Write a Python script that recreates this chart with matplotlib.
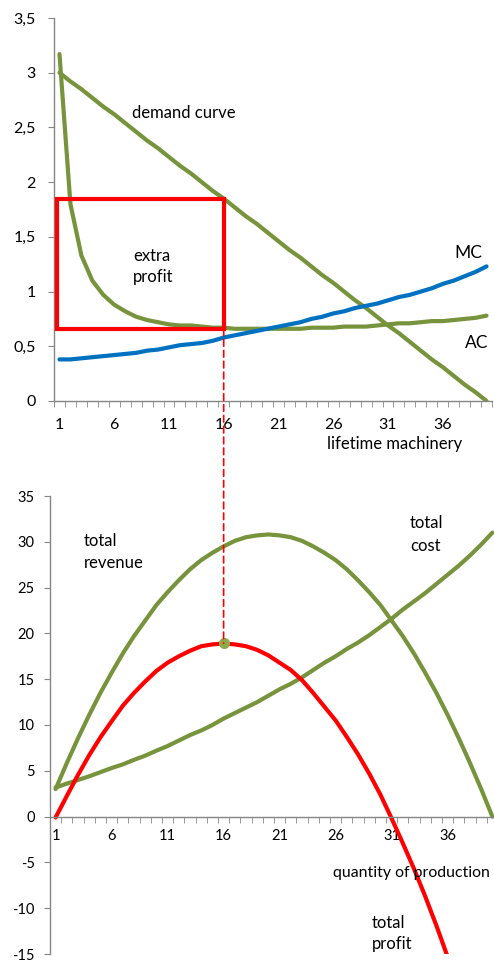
import matplotlib
matplotlib.use("Agg")
import matplotlib.pyplot as plt
from matplotlib.patches import Rectangle, ConnectionPatch

plt.rcParams["font.family"] = ["Lato", "DejaVu Sans"]
plt.rcParams["axes.unicode_minus"] = False

# quantities 1..40
q = list(range(1, 41))

# top chart: price / cost per unit
demand = [3.00, 2.92, 2.85, 2.77, 2.69, 2.62, 2.54, 2.46, 2.38, 2.31,
          2.23, 2.15, 2.08, 2.00, 1.92, 1.85, 1.77, 1.69, 1.62, 1.54,
          1.46, 1.38, 1.31, 1.23, 1.15, 1.08, 1.00, 0.92, 0.85, 0.77,
          0.69, 0.62, 0.54, 0.46, 0.38, 0.31, 0.23, 0.15, 0.08, 0.00]
ac = [3.17, 1.80, 1.33, 1.10, 0.97, 0.88, 0.82, 0.77, 0.74, 0.72,
      0.70, 0.69, 0.69, 0.68, 0.67, 0.67, 0.66, 0.66, 0.66, 0.66,
      0.66, 0.66, 0.66, 0.67, 0.67, 0.67, 0.68, 0.68, 0.68, 0.69,
      0.70, 0.71, 0.71, 0.72, 0.73, 0.73, 0.74, 0.75, 0.76, 0.78]
mc = [0.38, 0.38, 0.39, 0.40, 0.41, 0.42, 0.43, 0.44, 0.46, 0.47,
      0.49, 0.51, 0.52, 0.53, 0.55, 0.58, 0.60, 0.62, 0.64, 0.66,
      0.68, 0.70, 0.72, 0.75, 0.77, 0.80, 0.82, 0.85, 0.87, 0.89,
      0.92, 0.95, 0.97, 1.00, 1.03, 1.07, 1.10, 1.14, 1.18, 1.23]

# bottom chart: totals
revenue = [3.0, 5.85, 8.55, 11.1, 13.5, 15.7, 17.8, 19.7, 21.4, 23.1,
           24.5, 25.8, 27.0, 28.0, 28.8, 29.5, 30.1, 30.5, 30.7, 30.8,
           30.7, 30.5, 30.1, 29.5, 28.8, 28.0, 27.0, 25.8, 24.5, 23.1,
           21.4, 19.7, 17.8, 15.7, 13.5, 11.1, 8.55, 5.85, 3.0, 0.0]
cost = [3.17, 3.6, 4.0, 4.4, 4.85, 5.3, 5.7, 6.2, 6.65, 7.2,
        7.7, 8.3, 8.9, 9.4, 10.0, 10.7, 11.3, 11.9, 12.5, 13.2,
        13.9, 14.5, 15.2, 16.0, 16.8, 17.5, 18.3, 19.0, 19.8, 20.7,
        21.6, 22.6, 23.5, 24.4, 25.4, 26.4, 27.4, 28.5, 29.7, 31.0]
profit = [-0.1, 2.25, 4.55, 6.7, 8.65, 10.4, 12.1, 13.5, 14.75, 15.9,
          16.8, 17.5, 18.1, 18.6, 18.8, 18.9, 18.8, 18.6, 18.2, 17.6,
          16.8, 16.0, 14.9, 13.5, 12.0, 10.5, 8.7, 6.8, 4.7, 2.4,
          -0.2, -2.9, -5.7, -8.7, -11.9, -15.3, -18.9, -22.7, -26.7, -31.0]

xlabels = [1, 6, 11, 16, 21, 26, 31, 36]
top_yticks = [0, 0.5, 1, 1.5, 2, 2.5, 3, 3.5]
top_ylabels = ["0", "0,5", "1", "1,5", "2", "2,5", "3", "3,5"]
bot_yticks = [-15, -10, -5, 0, 5, 10, 15, 20, 25, 30, 35]

opt_q = 16
box_left, box_bottom, box_top = 0.8, 0.66, 1.85

green = "#77933C"
blue = "#0070C0"
red = "#FF0000"
gray = "#868686"

W, H = 494, 961
fig = plt.figure(figsize=(W / 100, H / 100), dpi=100)


def px_axes(left, top, right, bottom):
    return fig.add_axes([left / W, 1 - bottom / H, (right - left) / W, (bottom - top) / H])


def style(ax, size, ypad, xpad):
    for s in ["top", "right"]:
        ax.spines[s].set_visible(False)
    for s in ["left", "bottom"]:
        ax.spines[s].set_color(gray)
        ax.spines[s].set_linewidth(1.0)
    ax.set_xlim(0.5, 40.5)
    ax.set_xticks(xlabels)
    ax.set_xticklabels([str(v) for v in xlabels])
    ax.set_xticks([v + 0.5 for v in range(0, 41)], minor=True)
    ax.tick_params(axis="x", which="major", length=0, pad=xpad, labelsize=size)
    ax.tick_params(axis="x", which="minor", length=4, color=gray, direction="out")
    ax.tick_params(axis="y", length=4, color=gray, pad=ypad, labelsize=size)


# ---- top chart
ax1 = px_axes(54, 18, 492, 401)
ax1.plot(q, ac, color=green, lw=3, solid_capstyle="round")
ax1.plot(q, demand, color=green, lw=3, solid_capstyle="round")
ax1.plot(q, mc, color=blue, lw=3, solid_capstyle="round")
ax1.add_patch(Rectangle((box_left, box_bottom), opt_q - box_left, box_top - box_bottom,
                        fill=False, edgecolor=red, lw=3, zorder=4))
ax1.set_ylim(0, 3.5)
ax1.set_yticks(top_yticks)
ax1.set_yticklabels(top_ylabels)
style(ax1, 11.5, 9, 12)

# ---- bottom chart
ax2 = px_axes(50, 496, 498, 954)
ax2.plot(q, revenue, color=green, lw=3, solid_capstyle="round")
ax2.plot(q, cost, color=green, lw=3, solid_capstyle="round")
ax2.plot(q, profit, color=red, lw=3, solid_capstyle="round")
ax2.plot([opt_q], [profit[opt_q - 1]], "o", color="#8DAA4B", ms=7, zorder=5)
ax2.set_ylim(-15, 35)
ax2.set_yticks(bot_yticks)
ax2.spines["bottom"].set_position(("data", 0))
style(ax2, 10.5, 7, 9)

# dashed link between the two charts
con = ConnectionPatch(xyA=(opt_q, box_bottom), coordsA=ax1.transData,
                      xyB=(opt_q, profit[opt_q - 1]), coordsB=ax2.transData,
                      color=red, lw=1.2, linestyle=(0, (4, 2.5)), zorder=3)
fig.add_artist(con)


def label(x, y, s, size=12, ha="left"):
    fig.text(x / W, 1 - y / H, s, fontsize=size, ha=ha, va="center")


label(132, 113, "demand curve")
label(133, 256, "extra")
label(133, 277, "profit")
label(454, 253, "MC", 12.5)
label(465, 343, "AC", 12.5)
label(327, 444, "lifetime machinery")

label(84, 541, "total")
label(84, 563, "revenue")
label(410, 523, "total")
label(410, 546, "cost")
label(333, 873, "quantity of production", 11.4)
label(372, 923, "total")
label(372, 944, "profit")

fig.savefig("out.png", dpi=100)
